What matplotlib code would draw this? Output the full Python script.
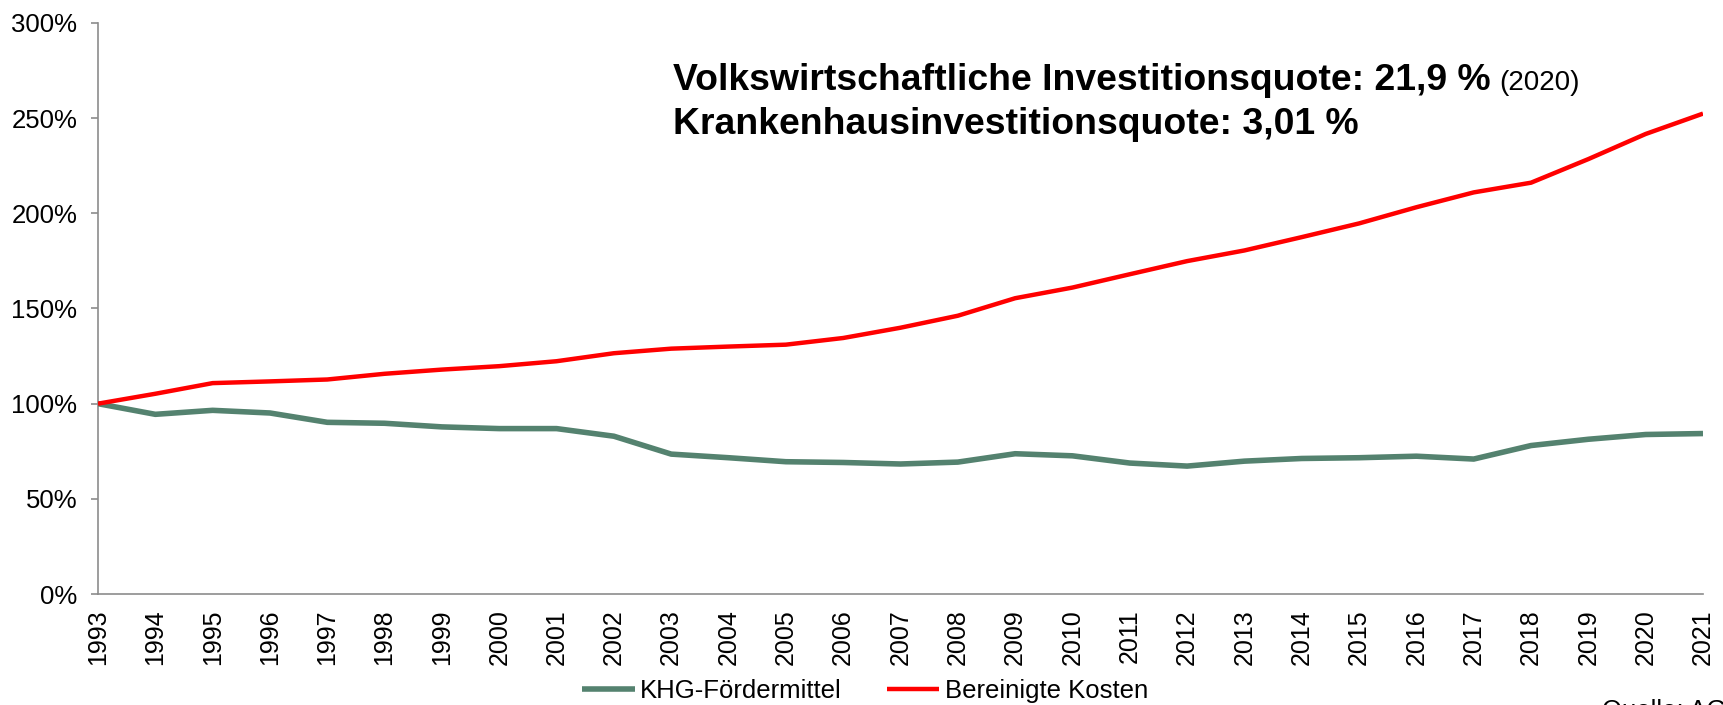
import matplotlib
matplotlib.use("Agg")
import matplotlib.pyplot as plt
from matplotlib.ticker import FixedLocator, FuncFormatter

plt.rcParams['font.family'] = ['Liberation Sans', 'DejaVu Sans']

years = list(range(1993, 2022))
khg_foerdermittel = [100, 94.4, 96.5, 95.1, 90.2, 89.7, 87.8, 86.9, 86.9, 82.9,
                     73.5, 71.6, 69.5, 69.1, 68.3, 69.3, 73.7, 72.6, 68.8, 67.2,
                     69.8, 71.2, 71.6, 72.4, 70.9, 78.0, 81.3, 83.8, 84.3]
bereinigte_kosten = [100, 105.2, 110.8, 111.7, 112.7, 115.7, 117.9, 119.7, 122.3, 126.5,
                     128.9, 130.0, 131.0, 134.5, 139.9, 146.2, 155.4, 161.0, 168.0, 174.9,
                     180.5, 187.5, 194.7, 203.2, 211.0, 216.1, 228.5, 241.7, 252.4]
series_names = ["KHG-Fördermittel", "Bereinigte Kosten"]
y_ticks = [0, 50, 100, 150, 200, 250, 300]
line1 = "Volkswirtschaftliche Investitionsquote: 21,9 %"
line1_note = "(2020)"
line2 = "Krankenhausinvestitionsquote: 3,01 %"
source = "Quelle: AG"

W, H = 1724, 705
fig = plt.figure(figsize=(W / 100, H / 100), dpi=100)
ax = fig.add_axes([98 / W, 1 - 594 / H, (1703 - 98) / W, (594 - 23) / H])

ax.plot(years, khg_foerdermittel, color='#54826F', lw=4.0, label=series_names[0],
        solid_joinstyle='round', solid_capstyle='butt', zorder=3)
ax.plot(years, bereinigte_kosten, color='#FF0000', lw=3.2, label=series_names[1],
        solid_joinstyle='round', solid_capstyle='butt', zorder=4)

ax.set_xlim(years[0], years[-1])
ax.set_ylim(0, 300)

for s in ['top', 'right']:
    ax.spines[s].set_visible(False)
for s in ['left', 'bottom']:
    ax.spines[s].set_color('#8C8C8C')
    ax.spines[s].set_linewidth(1.2)

ax.yaxis.set_major_locator(FixedLocator(y_ticks))
ax.yaxis.set_major_formatter(FuncFormatter(lambda v, p: f"{int(v)}%"))
ax.tick_params(axis='y', which='major', length=5, width=1.2, color='#8C8C8C',
               labelsize=18.5, pad=10, labelcolor='black')

ax.set_xticks(years)
ax.set_xticklabels([str(y) for y in years], rotation=90, fontsize=18)
ax.tick_params(axis='x', which='major', length=0, pad=11, labelcolor='black')
ax.xaxis.set_minor_locator(FixedLocator(years[::2]))
ax.tick_params(axis='x', which='minor', length=6, width=1.2, color='#8C8C8C')

t1 = fig.text(673 / W, 1 - 90 / H, line1, fontsize=26.9, fontweight='bold',
              ha='left', va='baseline')
fig.text(673 / W, 1 - 134 / H, line2, fontsize=26.9, fontweight='bold',
         ha='left', va='baseline')
fig.canvas.draw()
bb = t1.get_window_extent(renderer=fig.canvas.get_renderer())
fig.text((bb.x1 + 9) / W, 1 - 90 / H, line1_note, fontsize=20,
         ha='left', va='baseline')

fig.legend(loc='center', bbox_to_anchor=(865 / W, 1 - 691 / H), ncol=2,
           frameon=False, fontsize=18.5, handlelength=2.05, handletextpad=0.2,
           columnspacing=1.75, borderaxespad=0, borderpad=0)

fig.text(1602 / W, 1 - 699 / H, source, fontsize=18.5, ha='left', va='top')

fig.savefig("out.png", dpi=100)
